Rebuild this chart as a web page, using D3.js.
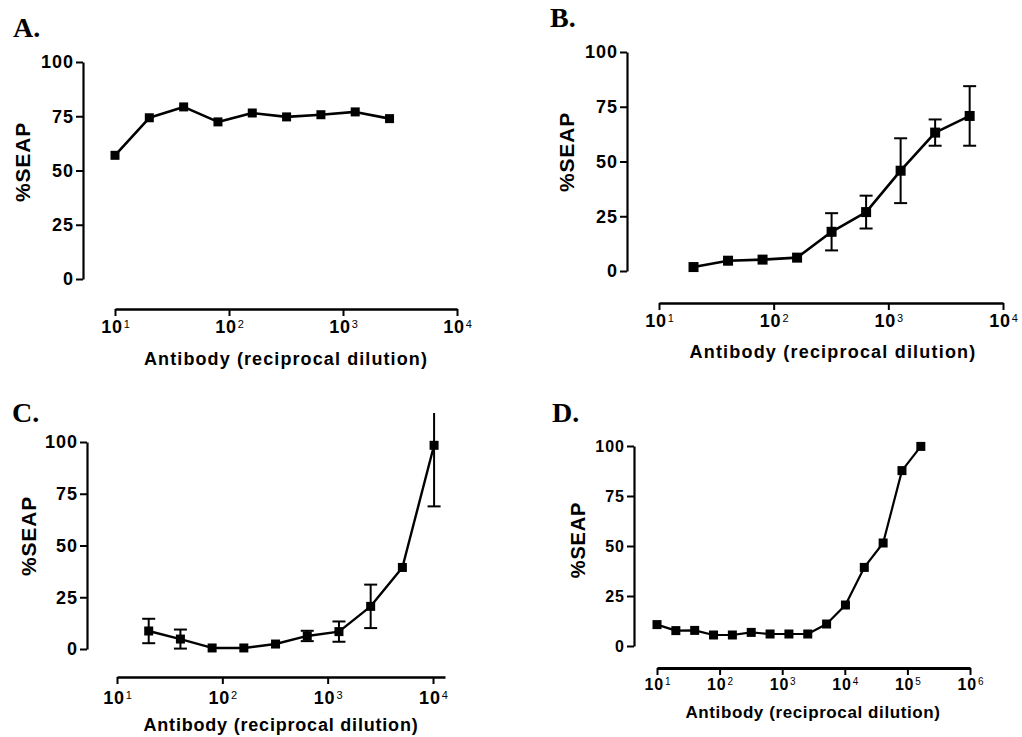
<!DOCTYPE html>
<html>
<head>
<meta charset="utf-8">
<script src="https://cdn.jsdelivr.net/npm/d3@7"></script>
<style>
  html, body { margin: 0; padding: 0; background: #fff; }
  svg { display: block; }
  text { fill: #000; }
</style>
</head>
<body>
<svg id="chart" width="1022" height="737"></svg>
<script>
// ---------- DATA ----------
const panelTitles = ["A.", "B.", "C.", "D."];
const yTickValues = [0, 25, 50, 75, 100];
const xLabel = "Antibody (reciprocal dilution)";
const yLabel = "%SEAP";

// Panel A
const dilA  = [10, 20, 40, 80, 160, 320, 640, 1280, 2560];
const seapA = [57.0, 74.3, 79.3, 72.4, 76.5, 74.7, 75.7, 77.0, 73.9];
const errA  = [0, 0, 0, 0, 0, 0, 0, 0, 0];
const expA  = [1, 2, 3, 4];

// Panel B
const dilB  = [20, 40, 80, 160, 320, 640, 1280, 2560, 5120];
const seapB = [1.8, 4.7, 5.2, 6.1, 17.9, 26.9, 45.8, 63.2, 70.8];
const errB  = [0, 0, 0, 0, 8.5, 7.5, 14.8, 6.0, 13.6];
const expB  = [1, 2, 3, 4];

// Panel C
const dilC  = [20, 40, 80, 160, 320, 640, 1280, 2560, 5120, 10240];
const seapC = [8.7, 4.8, 0.5, 0.5, 2.4, 6.3, 8.4, 20.6, 39.4, 98.4];
const errC  = [5.9, 4.6, 0, 0, 0, 2.5, 4.9, 10.5, 0, 29.5];
const expC  = [1, 2, 3, 4];

// Panel D
const dilD  = [10, 20, 40, 80, 160, 320, 640, 1280, 2560, 5120, 10240, 20480, 40960, 81920, 163840];
const seapD = [10.7, 7.7, 7.8, 5.5, 5.5, 6.8, 6.0, 6.0, 6.0, 11.0, 20.5, 39.3, 51.5, 87.7, 99.8];
const errD  = [0, 0, 0, 0, 0, 0, 0, 0, 0, 0, 0, 0, 0, 0, 0];
const expD  = [1, 2, 3, 4, 5, 6];

// ---------- LAYOUT ----------
const panels = [
  { title: panelTitles[0], dil: dilA, val: seapA, err: errA, exps: expA,
    xDomain: [10, 1e4], xRange: [115, 457], yRange: [279, 62], yAxisX: 83, xAxisY: 309,
    titlePos: [13, 37], yLabPos: [30, 162], xLabPos: [286, 365], xTickOff: 24,
    tickFont: 18, supFont: 11, labFont: 18, labSpace: 1.1, yLabFont: 21, marker: 9, lw: 2.6, axW: 2.4, clipTop: null },
  { title: panelTitles[1], dil: dilB, val: seapB, err: errB, exps: expB,
    xDomain: [10, 1e4], xRange: [659, 1003], yRange: [271, 52], yAxisX: 627, xAxisY: 303,
    titlePos: [550, 27], yLabPos: [574, 152], xLabPos: [833, 358], xTickOff: 24,
    tickFont: 18, supFont: 11, labFont: 18, labSpace: 1.2, yLabFont: 21, marker: 10, lw: 2.6, axW: 2.4, clipTop: null },
  { title: panelTitles[2], dil: dilC, val: seapC, err: errC, exps: expC,
    xDomain: [10, 13000], xRange: [117, 445], yRange: [649, 442], yAxisX: 87, xAxisY: 677,
    titlePos: [12, 422], yLabPos: [36, 536], xLabPos: [281, 731], xTickOff: 27,
    tickFont: 18, supFont: 11, labFont: 18, labSpace: 0.8, yLabFont: 21, marker: 9, lw: 2.4, axW: 2.4, clipTop: 114 },
  { title: panelTitles[3], dil: dilD, val: seapD, err: errD, exps: expD,
    xDomain: [10, 1e6], xRange: [657, 970], yRange: [646, 446], yAxisX: 634, xAxisY: 668,
    titlePos: [552, 422], yLabPos: [585, 540], xLabPos: [813, 718], xTickOff: 22,
    tickFont: 16, supFont: 10, labFont: 17, labSpace: 0.6, yLabFont: 20, marker: 9, lw: 2.2, axW: 3, clipTop: null }
];

const svg = d3.select("#chart");
const sans = "'Liberation Sans', Arial, Helvetica, sans-serif";
const serif = "'Liberation Serif', 'Times New Roman', serif";

panels.forEach((p, i) => {
  const g = svg.append("g");
  const x = d3.scaleLog().domain(p.xDomain).range(p.xRange);
  const y = d3.scaleLinear().domain([0, 100]).range(p.yRange);

  // title
  g.append("text")
    .attr("x", p.titlePos[0]).attr("y", p.titlePos[1])
    .attr("font-family", serif).attr("font-weight", "bold").attr("font-size", 28)
    .text(p.title);

  // y axis
  const yAx = g.append("g")
    .attr("transform", `translate(${p.yAxisX},0)`)
    .call(d3.axisLeft(y).tickValues(yTickValues).tickSize(7).tickSizeOuter(0).tickPadding(2));
  yAx.select(".domain").attr("stroke-width", 2.2);
  yAx.selectAll(".tick line").attr("stroke-width", 2);
  yAx.selectAll("text")
    .attr("font-family", sans).attr("font-weight", "bold").attr("font-size", p.tickFont)
    .attr("letter-spacing", 1);

  // x axis
  const decades = p.exps.map(e => Math.pow(10, e));
  const xAx = g.append("g")
    .attr("transform", `translate(0,${p.xAxisY})`)
    .call(d3.axisBottom(x).tickValues(decades).tickSize(7).tickSizeOuter(0).tickFormat(() => ""));
  xAx.select(".domain").attr("stroke-width", p.axW);
  xAx.selectAll(".tick line").attr("stroke-width", 2);
  xAx.selectAll(".tick text").each(function(d, j) {
    const t = d3.select(this);
    t.text(null)
      .attr("y", p.xTickOff).attr("dy", 0)
      .attr("text-anchor", "middle")
      .attr("font-family", sans).attr("font-weight", "bold").attr("font-size", p.tickFont);
    t.append("tspan").attr("letter-spacing", 0.8).text("10");
    t.append("tspan").attr("dy", -p.tickFont * 0.3).attr("dx", 1)
      .attr("font-size", p.supFont).attr("font-weight", "normal").text(String(p.exps[j]));
  });

  // axis labels
  g.append("text")
    .attr("transform", `translate(${p.yLabPos[0]},${p.yLabPos[1]}) rotate(-90)`)
    .attr("text-anchor", "middle")
    .attr("font-family", sans).attr("font-weight", "bold").attr("font-size", p.yLabFont)
    .attr("letter-spacing", 0.8)
    .text(yLabel);
  g.append("text")
    .attr("x", p.xLabPos[0]).attr("y", p.xLabPos[1])
    .attr("text-anchor", "middle")
    .attr("font-family", sans).attr("font-weight", "bold").attr("font-size", p.labFont)
    .attr("letter-spacing", p.labSpace)
    .text(xLabel);

  // clip for error bars
  const clipId = "clip" + i;
  const topY = p.clipTop == null ? 0 : y(p.clipTop);
  svg.append("clipPath").attr("id", clipId)
    .append("rect").attr("x", 0).attr("y", topY).attr("width", 1022).attr("height", 737 - topY);

  const data = p.dil.map((d, k) => ({ d, v: p.val[k], e: p.err[k] }));
  const plot = g.append("g").attr("clip-path", `url(#${clipId})`);

  // error bars
  const cap = 6.5;
  const eb = plot.selectAll(".eb").data(data.filter(o => o.e > 0)).join("g");
  eb.append("line")
    .attr("x1", o => x(o.d)).attr("x2", o => x(o.d))
    .attr("y1", o => y(o.v + o.e)).attr("y2", o => y(o.v - o.e))
    .attr("stroke", "#000").attr("stroke-width", 2);
  eb.append("line")
    .attr("x1", o => x(o.d) - cap).attr("x2", o => x(o.d) + cap)
    .attr("y1", o => y(o.v + o.e)).attr("y2", o => y(o.v + o.e))
    .attr("stroke", "#000").attr("stroke-width", 2);
  eb.append("line")
    .attr("x1", o => x(o.d) - cap).attr("x2", o => x(o.d) + cap)
    .attr("y1", o => y(o.v - o.e)).attr("y2", o => y(o.v - o.e))
    .attr("stroke", "#000").attr("stroke-width", 2);

  // line
  const line = d3.line().x(o => x(o.d)).y(o => y(o.v));
  plot.append("path").datum(data)
    .attr("d", line).attr("fill", "none").attr("stroke", "#000")
    .attr("stroke-width", p.lw).attr("stroke-linejoin", "round");

  // markers
  plot.selectAll(".m").data(data).join("rect")
    .attr("x", o => x(o.d) - p.marker / 2).attr("y", o => y(o.v) - p.marker / 2)
    .attr("width", p.marker).attr("height", p.marker).attr("fill", "#000");
});
</script>
</body>
</html>
